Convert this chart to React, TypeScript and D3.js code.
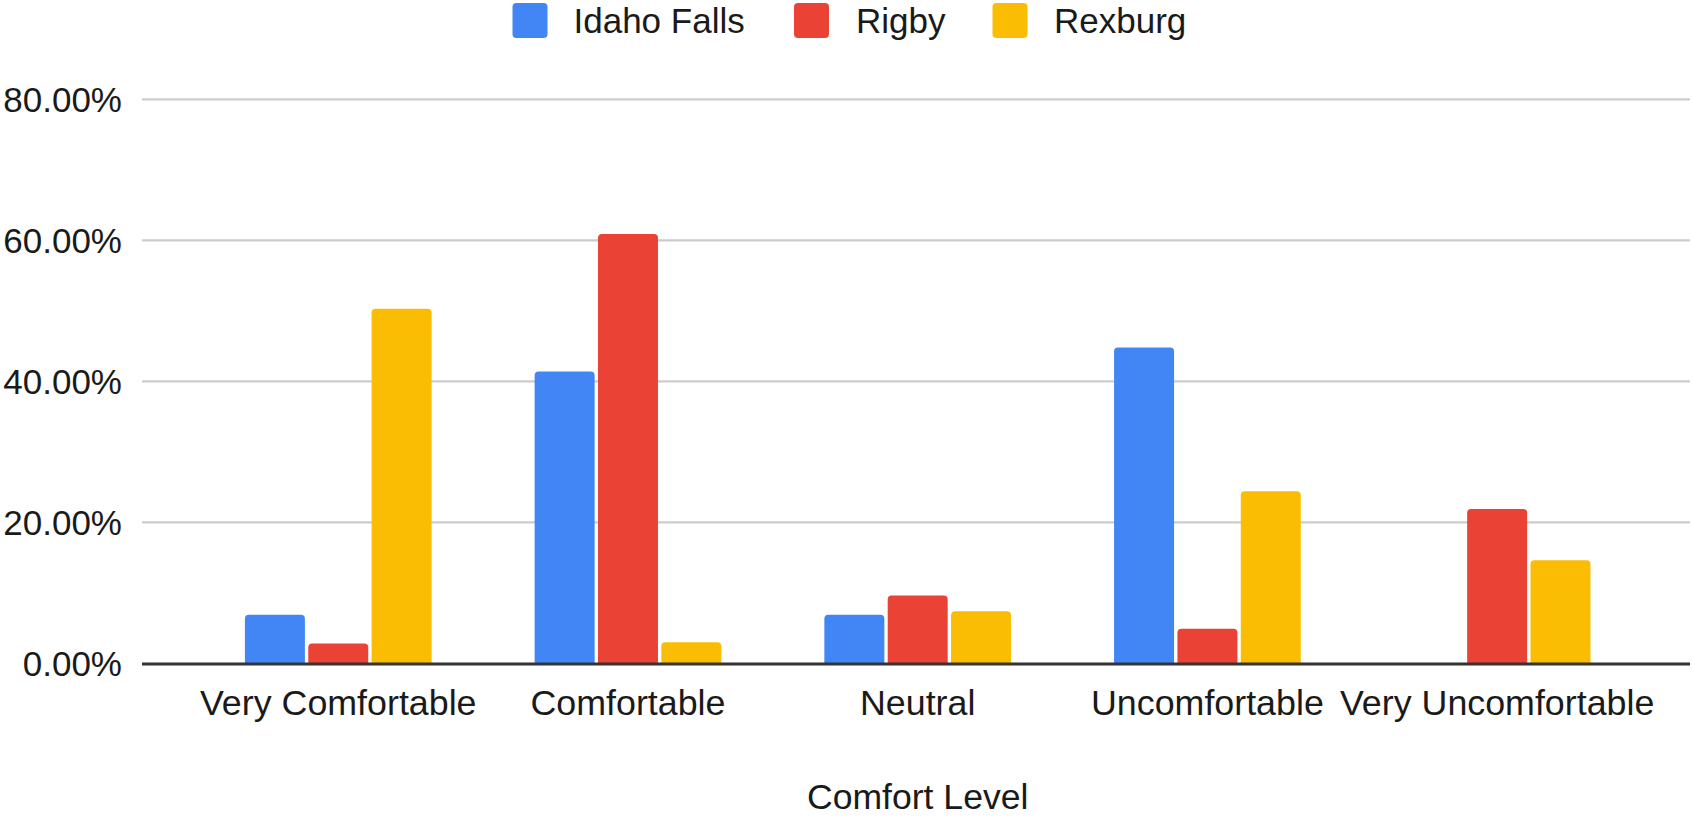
import React from "react";
import * as d3 from "d3";

const categories = ["Very Comfortable", "Comfortable", "Neutral", "Uncomfortable", "Very Uncomfortable"];
const seriesNames = ["Idaho Falls", "Rigby", "Rexburg"];
const idahoFalls = [6.9, 41.4, 6.9, 44.8, 0];
const rigby = [2.8, 60.9, 9.6, 4.9, 21.9];
const rexburg = [50.3, 3.0, 7.4, 24.4, 14.6];
const yTicks = [0, 20, 40, 60, 80];
const colors = ["#4285F4", "#EA4335", "#FBBC04"];
const xTitle = "Comfort Level";

const W = 1693;
const H = 817;
const FONT = "'Liberation Sans', Arial, sans-serif";

function topRounded(x: number, y: number, w: number, h: number, r: number) {
  if (h <= 0) return "";
  const rr = Math.min(r, h, w / 2);
  return `M${x},${y + h}V${y + rr}Q${x},${y} ${x + rr},${y}H${x + w - rr}Q${x + w},${y} ${x + w},${y + rr}V${y + h}Z`;
}

export default function App() {
  const series = [idahoFalls, rigby, rexburg];
  const y = d3.scaleLinear().domain([0, 80]).range([663.3, 99.3]);
  const x0 = d3.scaleBand<string>().domain(categories).range([193.4, 1642]).padding(0);
  const groupW = 186.7;
  const off = (x0.bandwidth() - groupW) / 2;
  const x1 = d3
    .scaleBand<string>()
    .domain(seriesNames)
    .range([off, off + groupW])
    .paddingInner(0.053)
    .paddingOuter(0);
  const gridX1 = 142;
  const gridX2 = 1690;
  const fmt = (v: number) => v.toFixed(2) + "%";

  const legendItems = [
    { name: seriesNames[0], sx: 512.5, tx: 573.5 },
    { name: seriesNames[1], sx: 794, tx: 856 },
    { name: seriesNames[2], sx: 992.5, tx: 1054 },
  ];

  return (
    <svg
      width={W}
      height={H}
      style={{ position: "absolute", left: 0, top: 0, background: "#fff" }}
      fontFamily={FONT}
    >
      <rect x={0} y={0} width={W} height={H} fill="#fff" />
      {legendItems.map((it, i) => (
        <g key={it.name}>
          <rect x={it.sx} y={3} width={35} height={35} rx={4} fill={colors[i]} />
          <text x={it.tx} y={32.5} fontSize={35} fill="#1a1a1a">
            {it.name}
          </text>
        </g>
      ))}
      {yTicks
        .filter((t) => t !== 0)
        .map((t) => (
          <line key={t} x1={gridX1} x2={gridX2} y1={y(t)} y2={y(t)} stroke="#cccccc" strokeWidth={2.2} />
        ))}
      {yTicks.map((t) => (
        <text
          key={"l" + t}
          x={122}
          y={y(t)}
          dy="0.355em"
          textAnchor="end"
          fontSize={35}
          fill="#1a1a1a"
        >
          {fmt(t)}
        </text>
      ))}
      {categories.map((c, ci) => (
        <g key={c} transform={`translate(${x0(c)},0)`}>
          {series.map((s, si) => {
            const v = s[ci];
            const bx = x1(seriesNames[si])!;
            const by = y(v);
            const bh = y(0) - by;
            return <path key={si} d={topRounded(bx, by, x1.bandwidth(), bh, 4)} fill={colors[si]} />;
          })}
        </g>
      ))}
      <line x1={gridX1} x2={gridX2} y1={664} y2={664} stroke="#333333" strokeWidth={2.8} />
      {categories.map((c) => (
        <text
          key={"c" + c}
          x={x0(c)! + x0.bandwidth() / 2}
          y={714.5}
          textAnchor="middle"
          fontSize={35.8}
          fill="#1a1a1a"
        >
          {c}
        </text>
      ))}
      <text x={(x0.range()[0] + x0.range()[1]) / 2} y={808.5} textAnchor="middle" fontSize={35.6} fill="#1a1a1a">
        {xTitle}
      </text>
    </svg>
  );
}
